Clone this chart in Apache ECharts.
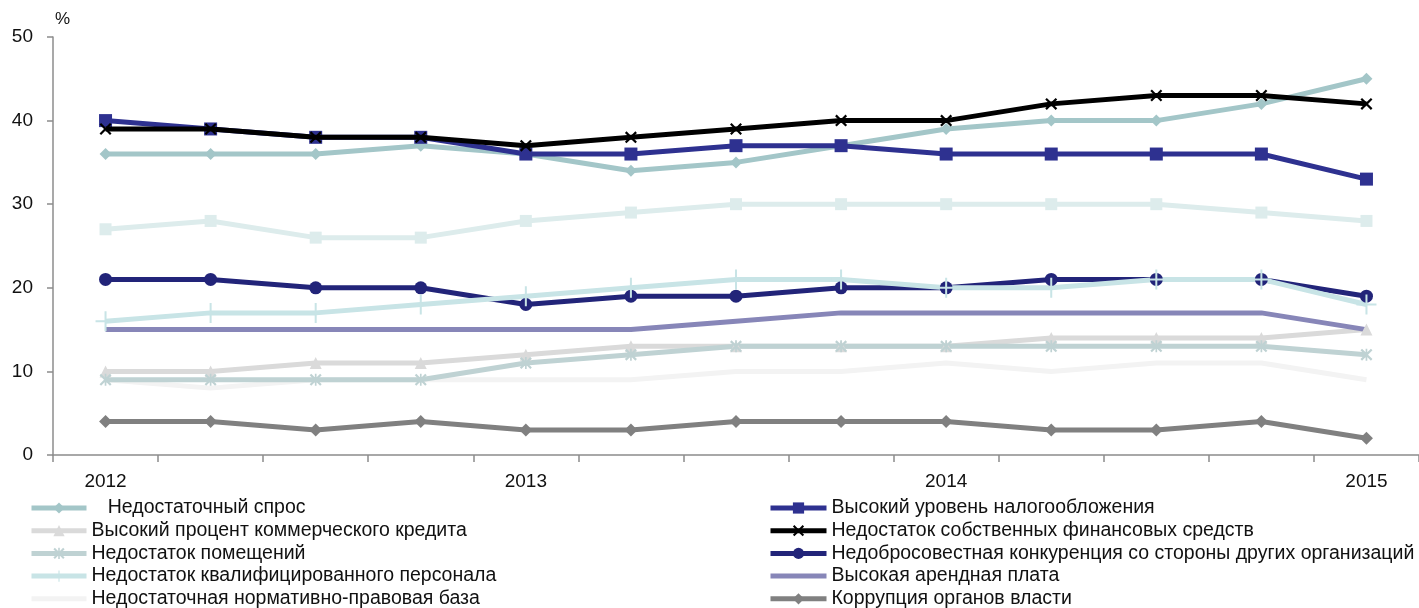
<!DOCTYPE html>
<html><head><meta charset="utf-8">
<script src="https://cdn.jsdelivr.net/npm/echarts@6/dist/echarts.min.js"></script>
<style>html,body{margin:0;padding:0;background:#fff}#c{width:1419px;height:608px}</style>
</head><body><div id="c"></div>
<script>
const categories = ['2012','','','','2013','','','','2014','','','','2015'];
const yTicks = [0,10,20,30,40,50];

const spros      = [36,36,36,37,36,34,35,37,39,40,40,42,45];
const nalog      = [40,39,38,38,36,36,37,37,36,36,36,36,33];
const credit     = [10,10,11,11,12,13,13,13,13,14,14,14,15];
const sobstv     = [39,39,38,38,37,38,39,40,40,42,43,43,42];
const pomesch    = [9,9,9,9,11,12,13,13,13,13,13,13,12];
const konkur     = [21,21,20,20,18,19,19,20,20,21,21,21,19];
const personal   = [16,17,17,18,19,20,21,21,20,20,21,21,18];
const arenda     = [15,15,15,15,15,15,16,17,17,17,17,17,15];
const normativ   = [9,8,9,9,9,9,10,10,11,10,11,11,9];
const korrup     = [4,4,3,4,3,3,4,4,4,3,3,4,2];
const unnamed    = [27,28,26,26,28,29,30,30,30,30,30,29,28];

const names = {
  spros:'Недостаточный спрос',
  nalog:'Высокий уровень налогообложения',
  credit:'Высокий процент коммерческого кредита',
  sobstv:'Недостаток собственных финансовых средств',
  pomesch:'Недостаток помещений',
  konkur:'Недобросовестная конкуренция со стороны других организаций',
  personal:'Недостаток квалифицированного персонала',
  arenda:'Высокая арендная плата',
  normativ:'Недостаточная нормативно-правовая база',
  korrup:'Коррупция органов власти'
};

const X_PATH = 'path://M0,1.3L1.3,0L5,3.7L8.7,0L10,1.3L6.3,5L10,8.7L8.7,10L5,6.3L1.3,10L0,8.7L3.7,5Z';
const PLUS_PATH = 'path://M4.5,0H5.5V4.5H10V5.5H5.5V10H4.5V5.5H0V4.5H4.5Z';
const AST_PATH = 'path://M0,1.3L1.3,0L5,3.7L8.7,0L10,1.3L6.3,5L10,8.7L8.7,10L5,6.3L1.3,10L0,8.7L3.7,5ZM4.3,0H5.7V10H4.3Z';

function ln(name, data, color, width, symbol, size, z){
  return {type:'line', name, data, color, symbol: symbol||'none', symbolSize: size||10,
    showSymbol: !!symbol, lineStyle:{width, color}, itemStyle:{color}, z: z||2,
    animation:false, emphasis:{disabled:true}};
}

const series = [
  ln(names.spros, spros, '#a3c6c8', 5, 'diamond', 12, 2),
  ln(names.nalog, nalog, '#2e3190', 5, 'rect', 13, 3),
  ln(names.credit, credit, '#dadada', 5, 'triangle', 12, 2),
  ln(names.sobstv, sobstv, '#000000', 5, X_PATH, 12, 4),
  ln(names.pomesch, pomesch, '#bfd2d3', 5, AST_PATH, 12, 2),
  ln(names.konkur, konkur, '#222479', 5, 'circle', 13, 3),
  ln(names.personal, personal, '#c8e4e6', 5, PLUS_PATH, 20, 3),
  ln(names.arenda, arenda, '#8786b8', 5, null, 0, 2),
  ln(names.normativ, normativ, '#f3f3f3', 5, null, 0, 1),
  ln(names.korrup, korrup, '#808080', 5, 'diamond', 13, 2),
  ln('Ряд 11', unnamed, '#ddecec', 5, 'rect', 12, 1)
];

const FONT = '"Liberation Sans",Arial,sans-serif';
const legText = {fontFamily:FONT, fontSize:19.5, lineHeight:20, color:'#111'};
const chart = echarts.init(document.getElementById('c'), null, {renderer:'canvas'});
chart.setOption({
  animation:false,
  backgroundColor:'#fff',
  grid:{left:53, top:37, width:1378, height:418},
  xAxis:{type:'category', data:categories, boundaryGap:true,
    axisLine:{lineStyle:{color:'#8c8c8c', width:1.5}},
    axisTick:{show:true, interval:0, length:7, lineStyle:{color:'#8c8c8c', width:1.5}},
    axisLabel:{interval:0, margin:17, fontSize:19, color:'#111', fontFamily:FONT}},
  yAxis:{type:'value', min:yTicks[0], max:yTicks[yTicks.length-1], interval:10,
    axisLine:{show:true, lineStyle:{color:'#8c8c8c', width:1.5}},
    axisTick:{show:true, length:6, lineStyle:{color:'#8c8c8c', width:1.5}},
    splitLine:{show:false},
    axisLabel:{margin:20, fontSize:19, color:'#111', fontFamily:FONT}},
  graphic:[{type:'text', left:55, top:11, style:{text:'%', fontSize:17, fill:'#111', fontFamily:FONT}}],
  legend:[
    {orient:'vertical', left:24, top:493, height:150, itemWidth:55, itemHeight:14, itemGap:2.7,
     lineStyle:{width:5},
     data:[names.spros, names.credit, names.pomesch, names.personal, {name:names.normativ, itemStyle:{opacity:0}}],
     formatter: n => n === names.spros ? '   ' + n : n,
     textStyle:legText, selectedMode:false},
    {orient:'vertical', left:763, top:493, height:150, itemWidth:56, itemHeight:14, itemGap:2.7,
     lineStyle:{width:5},
     data:[names.nalog, names.sobstv, names.konkur, {name:names.arenda, itemStyle:{opacity:0}}, names.korrup],
     textStyle:legText, selectedMode:false}
  ],
  series
});
</script></body></html>
